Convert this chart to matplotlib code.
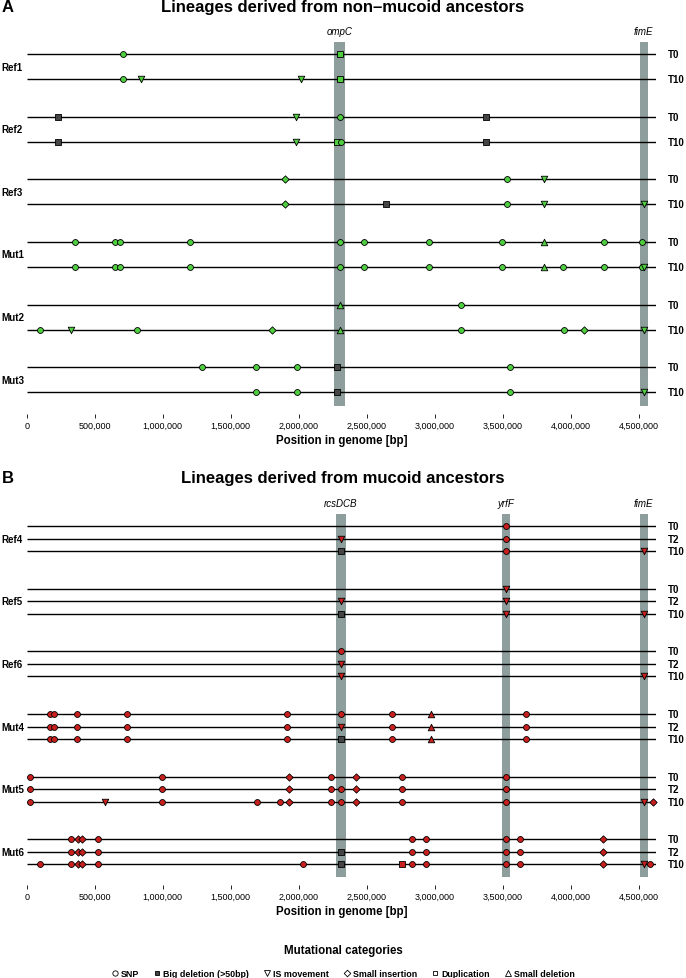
import matplotlib
matplotlib.use("Agg")
from matplotlib import pyplot as plt
from matplotlib.lines import Line2D

plt.rcParams['font.family'] = ['Liberation Sans', 'DejaVu Sans']

# -------------------------
# Data (positions in bp)
# -------------------------
GENOME_LEN = 4630000

lineages_a = ["Ref1", "Ref2", "Ref3", "Mut1", "Mut2", "Mut3"]
times_a = ["T0", "T10"]
lineages_b = ["Ref4", "Ref5", "Ref6", "Mut4", "Mut5", "Mut6"]
times_b = ["T0", "T2", "T10"]

genes_a = ["ompC", "fimE"]
genes_a_pos = [2300000, 4537000]
genes_a_width = [78000, 58000]
genes_b = ["rcsDCB", "yrfF", "fimE"]
genes_b_pos = [2310000, 3525000, 4537000]
genes_b_width = [75000, 58000, 58000]

# panel A: (position, category)
ref1_t0 = [(711000, "SNP"), (2306000, "DUP")]
ref1_t10 = [(711000, "SNP"), (843000, "IS"), (2019000, "IS"), (2306000, "DUP")]
ref2_t0 = [(229000, "BIGDEL"), (1977000, "IS"), (2306000, "SNP"), (3375000, "BIGDEL")]
ref2_t10 = [(229000, "BIGDEL"), (1977000, "IS"), (2280000, "DUP"), (2313000, "SNP"),
            (3375000, "BIGDEL")]
ref3_t0 = [(1902000, "INS"), (3534000, "SNP"), (3800000, "IS")]
ref3_t10 = [(1902000, "INS"), (2642000, "BIGDEL"), (3534000, "SNP"), (3800000, "IS"),
            (4541000, "IS")]
mut1_t0 = [(352000, "SNP"), (649000, "SNP"), (688000, "SNP"), (1198000, "SNP"),
           (2306000, "SNP"), (2481000, "SNP"), (2955000, "SNP"), (3498000, "SNP"),
           (3800000, "DEL"), (4247000, "SNP"), (4522000, "SNP")]
mut1_t10 = [(352000, "SNP"), (649000, "SNP"), (688000, "SNP"), (1198000, "SNP"),
            (2306000, "SNP"), (2481000, "SNP"), (2955000, "SNP"), (3498000, "SNP"),
            (3800000, "DEL"), (3944000, "SNP"), (4247000, "SNP"), (4522000, "SNP"),
            (4541000, "IS")]
mut2_t0 = [(2306000, "DEL"), (3191000, "SNP")]
mut2_t10 = [(100000, "SNP"), (326000, "IS"), (814000, "SNP"), (1802000, "INS"),
            (2306000, "DEL"), (3191000, "SNP"), (3953000, "SNP"), (4099000, "INS"),
            (4541000, "IS")]
mut3_t0 = [(1289000, "SNP"), (1686000, "SNP"), (1986000, "SNP"), (2284000, "BIGDEL"),
           (3553000, "SNP")]
mut3_t10 = [(1686000, "SNP"), (1986000, "SNP"), (2284000, "BIGDEL"), (3553000, "SNP"),
            (4541000, "IS")]

# panel B
ref4_t0 = [(3527000, "SNP")]
ref4_t2 = [(2309000, "IS"), (3527000, "SNP")]
ref4_t10 = [(2309000, "BIGDEL"), (3527000, "SNP"), (4541000, "IS")]
ref5_t0 = [(3527000, "IS")]
ref5_t2 = [(2309000, "IS"), (3527000, "IS")]
ref5_t10 = [(2309000, "BIGDEL"), (3527000, "IS"), (4541000, "IS")]
ref6_t0 = [(2309000, "SNP")]
ref6_t2 = [(2309000, "IS")]
ref6_t10 = [(2309000, "IS"), (4541000, "IS")]
mut4_t0 = [(174000, "SNP"), (200000, "SNP"), (368000, "SNP"), (740000, "SNP"),
           (1912000, "SNP"), (2309000, "SNP"), (2684000, "SNP"), (2975000, "DEL"),
           (3669000, "SNP")]
mut4_t2 = [(174000, "SNP"), (200000, "SNP"), (368000, "SNP"), (740000, "SNP"),
           (1912000, "SNP"), (2309000, "IS"), (2684000, "SNP"), (2975000, "DEL"),
           (3669000, "SNP")]
mut4_t10 = [(174000, "SNP"), (200000, "SNP"), (368000, "SNP"), (740000, "SNP"),
            (1912000, "SNP"), (2309000, "BIGDEL"), (2684000, "SNP"), (2975000, "DEL"),
            (3669000, "SNP")]
mut5_t0 = [(26000, "SNP"), (992000, "SNP"), (1932000, "INS"), (2235000, "SNP"),
           (2419000, "INS"), (2762000, "SNP"), (3527000, "SNP")]
mut5_t2 = [(26000, "SNP"), (992000, "SNP"), (1932000, "INS"), (2235000, "SNP"),
           (2309000, "SNP"), (2419000, "INS"), (2762000, "SNP"), (3527000, "SNP")]
mut5_t10 = [(26000, "SNP"), (575000, "IS"), (992000, "SNP"), (1692000, "SNP"),
            (1860000, "SNP"), (1932000, "INS"), (2235000, "SNP"), (2309000, "SNP"),
            (2419000, "INS"), (2762000, "SNP"), (3527000, "SNP"), (4541000, "IS"),
            (4606000, "INS")]
mut6_t0 = [(323000, "SNP"), (375000, "INS"), (404000, "INS"), (523000, "SNP"),
           (2836000, "SNP"), (2939000, "SNP"), (3527000, "SNP"), (3624000, "SNP"),
           (4238000, "INS")]
mut6_t2 = [(323000, "SNP"), (375000, "INS"), (404000, "INS"), (523000, "SNP"),
           (2309000, "BIGDEL"), (2836000, "SNP"), (2939000, "SNP"), (3527000, "SNP"),
           (3624000, "SNP"), (4238000, "INS")]
mut6_t10 = [(100000, "SNP"), (323000, "SNP"), (375000, "INS"), (404000, "INS"),
            (523000, "SNP"), (2032000, "SNP"), (2309000, "BIGDEL"), (2762000, "DUP"),
            (2836000, "SNP"), (2939000, "SNP"), (3527000, "SNP"), (3624000, "SNP"),
            (4238000, "INS"), (4541000, "IS"), (4580000, "SNP")]

rows_a = [[ref1_t0, ref1_t10], [ref2_t0, ref2_t10], [ref3_t0, ref3_t10],
          [mut1_t0, mut1_t10], [mut2_t0, mut2_t10], [mut3_t0, mut3_t10]]
rows_b = [[ref4_t0, ref4_t2, ref4_t10], [ref5_t0, ref5_t2, ref5_t10],
          [ref6_t0, ref6_t2, ref6_t10], [mut4_t0, mut4_t2, mut4_t10],
          [mut5_t0, mut5_t2, mut5_t10], [mut6_t0, mut6_t2, mut6_t10]]

# marker per category
markers = {"SNP": ("o", 18), "BIGDEL": ("s", 14), "IS": ("v", 22),
           "INS": ("D", 14), "DUP": ("s", 14), "DEL": ("^", 22)}
BAND = "#8e9e9c"
DARK = "#444444"

fig = plt.figure(figsize=(6.86, 9.79), dpi=100)
W, H = 686, 979


def px_axes(top, bottom):
    left, right = 26.7, 656.4
    return fig.add_axes([left / W, 1 - bottom / H, (right - left) / W, (bottom - top) / H])


def panel(ax, rows, lineages, times, genes, gpos, gwidth, color, ylim):
    ax.set_xlim(0, GENOME_LEN)
    ax.set_ylim(*ylim)
    for g, p, w in zip(genes, gpos, gwidth):
        ax.axvspan(p - w / 2, p + w / 2, color=BAND, lw=0, zorder=0)
        ax.text(p, ylim[1] - 0.44, g, style="italic", fontsize=7, ha="center",
                va="center", clip_on=False)
    nt = len(times)
    for k, (name, lin) in enumerate(zip(lineages, rows)):
        base = k * 2.5
        for j, (t, muts) in enumerate(zip(times, lin)):
            y = base + j / (nt - 1)
            ax.hlines(y, 0, GENOME_LEN, color="black", lw=1, zorder=1)
            ax.text(1.019, y, t, transform=ax.get_yaxis_transform(), fontsize=7,
                    fontweight="bold", ha="left", va="center")
            for pos, cat in muts:
                m, s = markers[cat]
                fc = DARK if cat == "BIGDEL" else color
                ax.scatter(pos, y, marker=m, s=s, facecolor=fc, edgecolor="black",
                           linewidth=0.6, zorder=3, clip_on=False)
        ax.text(-0.041, base + 0.5, name, transform=ax.get_yaxis_transform(),
                fontsize=7, fontweight="bold", ha="left", va="center")

    for sp in ax.spines.values():
        sp.set_visible(False)
    ax.spines["bottom"].set_position(("outward", 6))
    ax.set_yticks([])
    ticks = list(range(0, 4500001, 500000))
    ax.set_xticks(ticks)
    ax.set_xticklabels([f"{t:,}" for t in ticks], fontsize=6.5)
    ax.tick_params(axis="x", length=3, width=0.6, pad=1.5)
    ax.set_xlabel("Position in genome [bp]", fontsize=8.3, fontweight="bold", labelpad=3)


# -------------------------
# Panel A
# -------------------------
axA = px_axes(43.3, 407)
panel(axA, rows_a, lineages_a, times_a, genes_a, genes_a_pos, genes_a_width,
      "#4fcf3f", (14.05, -0.47))
fig.text(2 / W, 1 - 7.5 / H, "A", fontsize=12, fontweight="bold", ha="left", va="center")
fig.text(0.5, 1 - 7.5 / H, "Lineages derived from non\u2013mucoid ancestors", fontsize=12,
         fontweight="bold", ha="center", va="center")

# -------------------------
# Panel B
# -------------------------
axB = px_axes(515, 878)
panel(axB, rows_b, lineages_b, times_b, genes_b, genes_b_pos, genes_b_width,
      "#c8201e", (14.0, -0.48))
fig.text(2 / W, 1 - 478.5 / H, "B", fontsize=12, fontweight="bold", ha="left", va="center")
fig.text(0.5, 1 - 478.5 / H, "Lineages derived from mucoid ancestors", fontsize=12,
         fontweight="bold", ha="center", va="center")

# -------------------------
# Legend
# -------------------------
leg_labels = ["SNP", "Big deletion (>50bp)", "IS movement", "Small insertion",
              "Duplication", "Small deletion"]
leg_cats = ["SNP", "BIGDEL", "IS", "INS", "DUP", "DEL"]
handles = []
for c in leg_cats:
    m, s = markers[c]
    handles.append(Line2D([], [], ls="none", marker=m, markersize=(s ** 0.5) * 0.9,
                          markerfacecolor=DARK if c == "BIGDEL" else "white",
                          markeredgecolor="black", markeredgewidth=0.6))
leg = fig.legend(handles, leg_labels, loc="center", bbox_to_anchor=(0.5, 1 - 962 / H),
                 ncol=6, frameon=False, fontsize=6.4, handlelength=0.8,
                 handletextpad=0.3, columnspacing=1.6, title="Mutational categories",
                 title_fontproperties={"weight": "bold", "size": 8.3})
for t in leg.get_texts():
    t.set_fontweight("bold")
leg._legend_box.sep = 9

fig.savefig("out.png", dpi=100)
